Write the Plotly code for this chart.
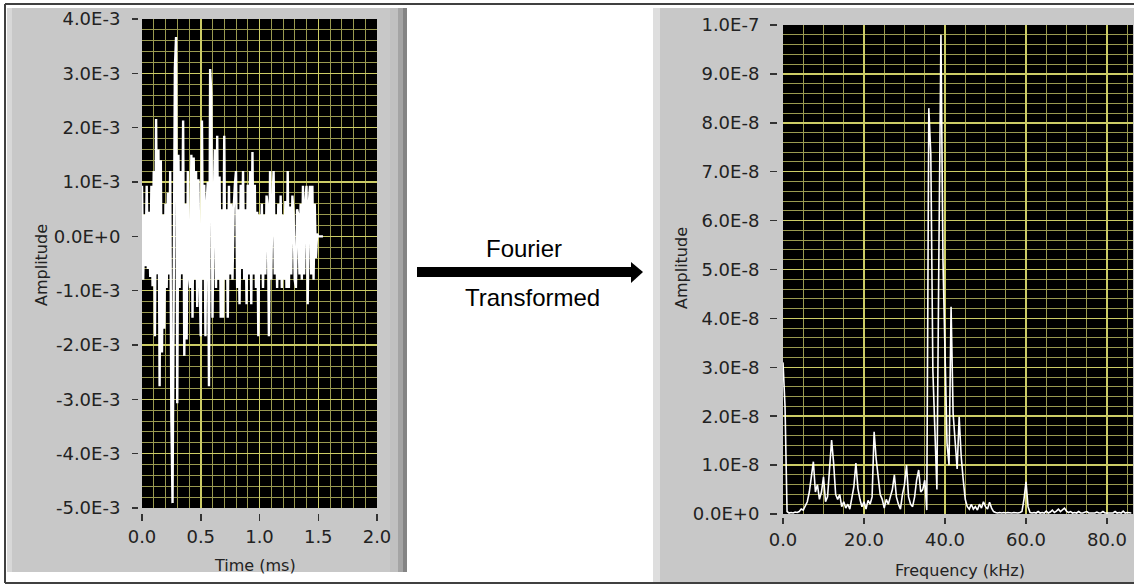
import plotly.graph_objects as go

W, H = 1139, 585

# ---------------- data ----------------
# time-domain signal, amplitude in units of 1E-3, sampled every 0.01 ms from 0 ms
signal_e3 = [
    0.93, -0.80, 0.40, -0.55, 0.93, -0.60, 0.45, -0.75, 0.93, -0.92,
    1.20, -1.84, 2.16, -0.70, 1.60, -2.76, 1.40, -2.14, 0.40, -1.70,
    0.60, -0.95, 0.80, -0.70, 1.20, -3.34, -4.91, 0.80, 3.10, 3.67,
    -3.07, 1.50, -0.95, 1.20, -0.70, 2.13, -2.20, 0.60, -1.90, 1.20,
    -0.70, -0.95, 1.50, -1.50, 1.45, -0.80, 1.20, -1.30, 1.05, -0.70,
    -1.84, 2.13, -0.80, 0.95, -1.84, 0.60, 1.00, -2.76, 3.08, 2.60,
    -1.50, 0.50, 1.60, -0.95, 1.85, -0.80, 1.10, -1.50, 0.50, -1.50,
    1.85, -0.80, 0.50, -1.50, 0.93, -0.70, 0.60, -0.80, 0.50, 0.93,
    1.20, -0.95, 0.50, -1.25, 0.95, -0.60, 1.20, -0.80, 0.50, -1.25,
    0.95, -0.70, 1.20, -1.25, 1.55, -0.70, 0.95, -0.95, 0.45, -1.84,
    0.40, -0.70, 0.60, -0.95, 0.40, -0.70, 0.75, 0.55, -1.84, 1.20,
    -0.80, 0.60, 1.20, -0.70, 0.40, -0.95, 0.60, -0.80, 0.75, -0.95,
    0.40, -0.80, 0.65, -0.95, 1.20, -0.95, 0.55, -0.70, 0.75, 0.40,
    -0.80, -0.95, 0.50, 0.40, -0.70, 0.60, -0.80, 0.93, -0.70, 0.60,
    0.93, -1.25, 0.60, 0.93, -0.70, 0.93, -0.80, 0.60, -0.40, 0.05,
    0.00, 0.00, 0.00, 0.00, 0.00,
]
time_start_ms = 0.0
time_step_ms = 0.01

# spectrum, amplitude in units of 1E-8, every 0.5 kHz from 0 kHz
spectrum_e8 = [
    3.10, 2.20, 0.05, 0.02, 0.03, 0.02, 0.04, 0.03, 0.05, 0.10,
    0.08, 0.15, 0.25, 0.45, 0.80, 1.07, 0.45, 0.60, 0.30, 0.45,
    0.76, 0.25, 0.35, 0.86, 1.51, 1.04, 0.40, 0.30, 0.40, 0.15,
    0.25, 0.12, 0.20, 0.10, 0.35, 0.56, 1.04, 0.52, 0.30, 0.15,
    0.25, 0.10, 0.28, 0.20, 0.35, 1.68, 1.13, 0.76, 0.40, 0.30,
    0.12, 0.30, 0.20, 0.35, 0.50, 0.80, 0.35, 0.20, 0.10, 0.40,
    0.60, 1.00, 0.35, 0.20, 0.15, 0.35, 0.70, 0.90, 0.45, 0.50,
    0.69, 0.08, 8.30, 7.34, 2.94, 1.72, 0.50, 5.40, 9.80, 5.20,
    3.50, 1.45, 1.00, 4.24, 2.06, 1.38, 0.92, 1.99, 1.17, 0.70,
    0.30, 0.15, 0.10, 0.20, 0.10, 0.15, 0.08, 0.20, 0.12, 0.25,
    0.15, 0.10, 0.24, 0.12, 0.05, 0.03, 0.02, 0.03, 0.02, 0.03,
    0.02, 0.03, 0.02, 0.02, 0.03, 0.02, 0.02, 0.03, 0.05, 0.30,
    0.66, 0.15, 0.03, 0.02, 0.03, 0.02, 0.05, 0.02, 0.03, 0.02,
    0.06, 0.02, 0.04, 0.08, 0.03, 0.06, 0.10, 0.05, 0.08, 0.12,
    0.06, 0.03, 0.05, 0.02, 0.03, 0.02, 0.05, 0.02, 0.02, 0.03,
    0.05, 0.02, 0.02, 0.03, 0.02, 0.04, 0.02, 0.02, 0.05, 0.02,
    0.02, 0.03, 0.02, 0.02, 0.05, 0.02, 0.03, 0.02, 0.06, 0.02,
    0.03, 0.02, 0.02,
]
freq_start_khz = 0.0
freq_step_khz = 0.5

time_tickvals = [0.0, 0.5, 1.0, 1.5, 2.0]
time_ticktext = ["0.0", "0.5", "1.0", "1.5", "2.0"]
amp_tickvals = [-5, -4, -3, -2, -1, 0, 1, 2, 3, 4]
amp_ticktext = ["-5.0E-3", "-4.0E-3", "-3.0E-3", "-2.0E-3", "-1.0E-3",
                "0.0E+0", "1.0E-3", "2.0E-3", "3.0E-3", "4.0E-3"]
freq_tickvals = [0, 20, 40, 60, 80]
freq_ticktext = ["0.0", "20.0", "40.0", "60.0", "80.0"]
spec_tickvals = [0, 1, 2, 3, 4, 5, 6, 7, 8, 9, 10]
spec_ticktext = ["0.0E+0", "1.0E-8", "2.0E-8", "3.0E-8", "4.0E-8", "5.0E-8",
                 "6.0E-8", "7.0E-8", "8.0E-8", "9.0E-8", "1.0E-7"]

# ---------------- styling ----------------
MAJOR = "#cccc66"
MINOR = "#9a9a50"
TICKFONT = dict(family="DejaVu Sans", size=18, color="#222222")
TITLEFONT = dict(family="DejaVu Sans", size=16, color="#222222")


def px(x):
    return x / W


def py(y):
    return 1 - y / H


fig = go.Figure()
fig.add_trace(go.Scatter(x0=time_start_ms, dx=time_step_ms, y=signal_e3, mode="lines",
                         line=dict(color="white", width=2.4), xaxis="x", yaxis="y",
                         showlegend=False, hoverinfo="skip"))
fig.add_trace(go.Scatter(x0=freq_start_khz, dx=freq_step_khz, y=spectrum_e8, mode="lines",
                         line=dict(color="white", width=1.6), xaxis="x2", yaxis="y2",
                         showlegend=False, hoverinfo="skip"))


def axis(domain, rng, tickvals, ticktext, pos, minor_dtick, ticklen):
    return dict(domain=domain, range=rng, anchor="free", position=pos, automargin=False,
                tickmode="array", tickvals=tickvals, ticktext=ticktext,
                ticks="outside", ticklen=ticklen, tickwidth=1.5, tickcolor="#333333",
                tickfont=TICKFONT, showgrid=True, gridcolor=MAJOR, gridwidth=1.5,
                zeroline=False, showline=False, fixedrange=True,
                minor=dict(tickmode="linear", tick0=0, dtick=minor_dtick, showgrid=True,
                           gridcolor=MINOR, gridwidth=1, ticks=""))


fig.update_layout(
    width=W, height=H, margin=dict(l=0, r=0, t=0, b=0, pad=0, autoexpand=False),
    paper_bgcolor="white", plot_bgcolor="black",
    xaxis=axis([px(142), px(377)], [0, 2.0], time_tickvals, time_ticktext,
               py(513), 0.1, 7),
    yaxis=axis([py(508), py(19)], [-5, 4], amp_tickvals, amp_ticktext,
               px(138), 0.2, 6),
    xaxis2=axis([px(783), px(1133)], [0, 86.42], freq_tickvals, freq_ticktext,
                py(517), 5, 6),
    yaxis2=axis([py(514), py(25)], [0, 10], spec_tickvals, spec_ticktext,
                px(777), 0.2, 7),
)
fig.layout.yaxis.ticklabelstandoff = 8
fig.layout.yaxis2.ticklabelstandoff = 7

shapes = []


def rect(x0, y0, x1, y1, color, layer="below"):
    shapes.append(dict(type="rect", xref="paper", yref="paper",
                       x0=px(x0), x1=px(x1), y0=py(y1), y1=py(y0),
                       fillcolor=color, line=dict(width=0), layer=layer))


# left panel
rect(7, 8, 407, 572, "#c8c8c8")
rect(7, 8, 12, 572, "#d8d8d8")
rect(390, 8, 398, 572, "#c0c0c0")
rect(398, 8, 403, 572, "#a4a4a4")
rect(403, 8, 407, 572, "#848484")
# right panel
rect(653, 8, 1134, 582, "#c8c8c8")
rect(653, 8, 660, 582, "#dedede")
# plot areas
for xr, yr in (("x", "y"), ("x2", "y2")):
    shapes.append(dict(type="rect", xref=xr + " domain", yref=yr + " domain",
                       x0=0, x1=1, y0=0, y1=1, fillcolor="black",
                       line=dict(width=0), layer="below"))

# outer frame
for (x0, y0, x1, y1) in ((5, 4, 1134, 4), (5, 4, 5, 583), (5, 583, 1134, 583)):
    shapes.append(dict(type="line", xref="paper", yref="paper",
                       x0=px(x0), x1=px(x1), y0=py(y0), y1=py(y1),
                       line=dict(color="#404040", width=2), layer="above"))

# arrow
rect(417, 267, 633, 277, "black", "above")
shapes.append(dict(type="path", xref="paper", yref="paper",
                   path=f"M {px(631)} {py(262)} L {px(643)} {py(272)} L {px(631)} {py(283)} Z",
                   fillcolor="black", line=dict(width=0), layer="above"))

fig.update_layout(shapes=shapes)

ann = []


def text(x, y, s, font, angle=0):
    ann.append(dict(x=px(x), y=py(y), xref="paper", yref="paper", text=s,
                    showarrow=False, font=font, textangle=angle,
                    xanchor="center", yanchor="middle"))


text(42, 265, "Amplitude", TITLEFONT, -90)
text(682, 268, "Amplitude", TITLEFONT, -90)
text(255, 565, "Time (ms)", TITLEFONT)
text(960, 570, "Frequency (kHz)", TITLEFONT)
ARIAL = dict(family="Liberation Sans", size=24, color="black")
text(524, 248, "Fourier", ARIAL)
text(532, 297, "Transformed", ARIAL)
fig.update_layout(annotations=ann)

fig.write_html(
    "out.html",
    config={"displayModeBar": False, "staticPlot": True},
    post_script="document.body.style.margin='0';document.body.style.padding='0';"
                "document.body.style.overflow='hidden';",
)
